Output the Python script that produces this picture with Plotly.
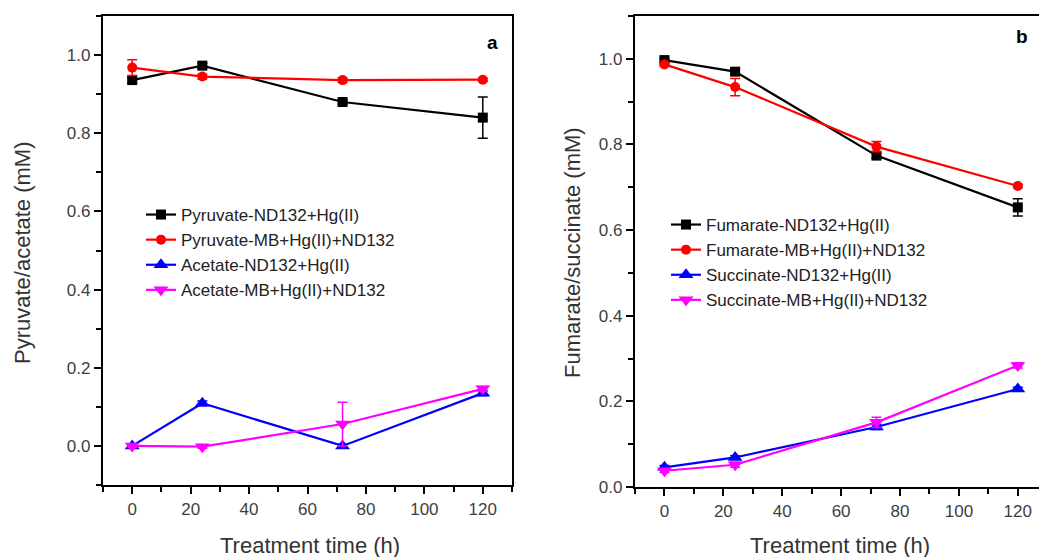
import plotly.graph_objects as go

time_h = [0, 24, 72, 120]

# Panel a
pyr_nd = [0.936, 0.973, 0.880, 0.840]
pyr_nd_err = [0.006, 0.006, 0.006, 0.053]
pyr_mb = [0.968, 0.945, 0.936, 0.937]
pyr_mb_err = [0.02, 0.006, 0.006, 0.004]
ace_nd = [0.0, 0.109, 0.0, 0.135]
ace_nd_err = [0.004, 0.006, 0.004, 0.006]
ace_mb = [0.0, -0.002, 0.056, 0.146]
ace_mb_err = [0.004, 0.004, 0.056, 0.006]

# Panel b
fum_nd = [0.997, 0.970, 0.774, 0.653]
fum_nd_err = [0.004, 0.006, 0.006, 0.02]
fum_mb = [0.987, 0.934, 0.795, 0.703]
fum_mb_err = [0.004, 0.02, 0.012, 0.004]
suc_nd = [0.046, 0.069, 0.140, 0.229]
suc_nd_err = [0.004, 0.004, 0.006, 0.004]
suc_mb = [0.038, 0.052, 0.151, 0.284]
suc_mb_err = [0.004, 0.006, 0.012, 0.006]

names_a = ["Pyruvate-ND132+Hg(II)", "Pyruvate-MB+Hg(II)+ND132",
           "Acetate-ND132+Hg(II)", "Acetate-MB+Hg(II)+ND132"]
names_b = ["Fumarate-ND132+Hg(II)", "Fumarate-MB+Hg(II)+ND132",
           "Succinate-ND132+Hg(II)", "Succinate-MB+Hg(II)+ND132"]
colors = ["#000000", "#FF0000", "#0000FF", "#FF00FF"]
symbols = ["square", "circle", "triangle-up", "triangle-down"]
msizes = [10, 10, 13, 13]

W, H = 1039, 557
fig = go.Figure()

def add(series, errs, names, xa, ya, leg):
    for y, e, n, c, s, ms in zip(series, errs, names, colors, symbols, msizes):
        fig.add_trace(go.Scatter(
            x=time_h, y=y, name=n, mode="lines+markers",
            line=dict(color=c, width=2.2),
            marker=dict(symbol=s, size=ms, color=c),
            error_y=dict(type="data", array=e, visible=True, color=c, thickness=1.5, width=5),
            xaxis=xa, yaxis=ya, legend=leg))

add([pyr_nd, pyr_mb, ace_nd, ace_mb], [pyr_nd_err, pyr_mb_err, ace_nd_err, ace_mb_err], names_a, "x", "y", "legend")
add([fum_nd, fum_mb, suc_nd, suc_mb], [fum_nd_err, fum_mb_err, suc_nd_err, suc_mb_err], names_b, "x2", "y2", "legend2")

tickfont = dict(family="Arial, Liberation Sans", size=17, color="#404040")
axcommon = dict(showline=True, linecolor="black", linewidth=2.2, ticks="outside",
                ticklen=7, tickwidth=2, tickcolor="black", showgrid=False, zeroline=False,
                tickfont=tickfont, automargin=False)

def minor(dt):
    return dict(ticks="outside", ticklen=5, tickwidth=2, tickcolor="black", dtick=dt, tick0=0)

def px(x):
    return x / W

def py(y):
    return 1 - y / H

xt = [0, 20, 40, 60, 80, 100, 120]
yt = [0, 0.2, 0.4, 0.6, 0.8, 1.0]

fig.update_layout(
    width=W, height=H, margin=dict(l=0, r=0, t=0, b=0, autoexpand=False),
    paper_bgcolor="white", plot_bgcolor="white",
    font=dict(family="Arial, Liberation Sans", color="black"),
    xaxis=dict(domain=[px(103), px(512)], range=[-10, 130], tickvals=xt, minor=minor(10),
               mirror=True, anchor="y", **axcommon),
    yaxis=dict(domain=[py(485), py(16)], range=[-0.1, 1.1], tickvals=yt, tickformat=".1f",
               minor=minor(0.1), mirror=True, anchor="x", **axcommon),
    xaxis2=dict(domain=[px(635), 1.0], range=[-10, 127.2], tickvals=xt, minor=minor(10),
                mirror=True, anchor="y2", **axcommon),
    yaxis2=dict(domain=[py(487), py(16)], range=[0, 1.1], tickvals=yt, tickformat=".1f",
                minor=minor(0.1), mirror=False, anchor="x2", **axcommon),
    legend=dict(x=px(141), y=py(197), xanchor="left", yanchor="top",
                bgcolor="rgba(0,0,0,0)", borderwidth=0, tracegroupgap=0,
                font=dict(family="Arial, Liberation Sans", size=17, color="#222222")),
    legend2=dict(x=px(666), y=py(207), xanchor="left", yanchor="top",
                 bgcolor="rgba(0,0,0,0)", borderwidth=0, tracegroupgap=0,
                 font=dict(family="Arial, Liberation Sans", size=17, color="#222222")),
    showlegend=True,
)

annots = [
    dict(text="<b>a</b>", x=px(492), y=py(42), font=dict(size=19)),
    dict(text="<b>b</b>", x=px(1022), y=py(37), font=dict(size=19)),
    dict(text="Treatment time (h)", x=px(310), y=py(545), font=dict(size=22, color="#333333")),
    dict(text="Treatment time (h)", x=px(840), y=py(545), font=dict(size=22, color="#333333")),
    dict(text="Pyruvate/acetate (mM)", x=px(22), y=py(253), textangle=-90, font=dict(size=22, color="#333333")),
    dict(text="Fumarate/succinate (mM)", x=px(572), y=py(253), textangle=-90, font=dict(size=22, color="#333333")),
]
for a in annots:
    fig.add_annotation(xref="paper", yref="paper", showarrow=False,
                       xanchor="center", yanchor="middle", **a)

fig.write_html("out.html", config={"displayModeBar": False},
               post_script="document.body.style.margin='0';document.body.style.overflow='hidden';")
